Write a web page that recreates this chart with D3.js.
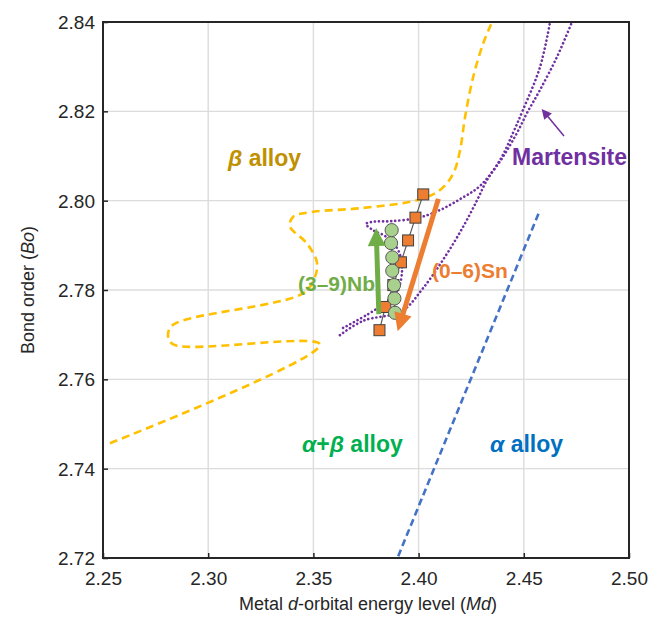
<!DOCTYPE html>
<html>
<head>
<meta charset="utf-8">
<script src="https://cdn.jsdelivr.net/npm/d3@7"></script>
<style>
  body { margin: 0; background: #fff; }
  text { font-family: Arial, "Liberation Sans", sans-serif; }
</style>
</head>
<body>
<svg id="chart" width="649" height="619"></svg>
<script>
// Axis ticks
const xTicks = [2.25, 2.30, 2.35, 2.40, 2.45, 2.50];
const yTicks = [2.72, 2.74, 2.76, 2.78, 2.80, 2.82, 2.84];

// Sn additions (0–6 wt%): Md, Bo
const snLabels = [0, 1, 2, 3, 4, 5, 6];
const snMd = [2.4022, 2.3985, 2.3950, 2.3916, 2.3880, 2.3842, 2.3814];
const snBo = [2.8014, 2.7962, 2.7911, 2.7862, 2.7811, 2.7762, 2.7710];

// Nb additions (3–9 wt%): Md, Bo
const nbLabels = [3, 4, 5, 6, 7, 8, 9];
const nbMd = [2.3888, 2.3885, 2.3883, 2.3875, 2.3875, 2.3869, 2.3872];
const nbBo = [2.7749, 2.7781, 2.7811, 2.7843, 2.7873, 2.7905, 2.7934];

// β / α+β boundary
const betaMd = [2.2533, 2.3531, 2.2834, 2.2809, 2.2833, 2.3452, 2.3508, 2.3516, 2.3468, 2.3389, 2.3404, 2.3500, 2.3722, 2.3991, 2.4102, 2.4165, 2.4197, 2.4221, 2.4260, 2.4307, 2.4349];
const betaBo = [2.7457, 2.7678, 2.7678, 2.7699, 2.7722, 2.7793, 2.7830, 2.7863, 2.7905, 2.7942, 2.7964, 2.7975, 2.7983, 2.8001, 2.8024, 2.8061, 2.8113, 2.8188, 2.8278, 2.8352, 2.8400];

// Martensite boundaries
const msUpperMd = [2.3641, 2.3760, 2.3845, 2.3902, 2.3921, 2.3916, 2.3888, 2.3840, 2.3783, 2.3750, 2.3788, 2.3864, 2.3992, 2.4102, 2.4206, 2.4292, 2.4387, 2.4449, 2.4496, 2.4577, 2.4625];
const msUpperBo = [2.7715, 2.7746, 2.7773, 2.7802, 2.7840, 2.7872, 2.7901, 2.7921, 2.7934, 2.7948, 2.7953, 2.7954, 2.7961, 2.7979, 2.8006, 2.8033, 2.8091, 2.8152, 2.8203, 2.8299, 2.8400];
const msLowerMd = [2.3626, 2.3736, 2.3921, 2.4021, 2.4125, 2.4211, 2.4278, 2.4325, 2.4401, 2.4468, 2.4515, 2.4577, 2.4658, 2.4729];
const msLowerBo = [2.7699, 2.7731, 2.7753, 2.7804, 2.7874, 2.7941, 2.8001, 2.8046, 2.8098, 2.8152, 2.8196, 2.8248, 2.8322, 2.8400];

// α / α+β boundary
const alphaMd = [2.3903, 2.4577];
const alphaBo = [2.7204, 2.7979];

// Trend arrows [from, to]
const nbArrow = [[2.3811, 2.7746], [2.3798, 2.7943]];
const snArrow = [[2.4094, 2.8004], [2.3898, 2.7704]];
const msArrow = [[2.4691, 2.8145], [2.4582, 2.8207]];

const svg = d3.select("#chart");
const m = { left: 103, right: 629, top: 22, bottom: 558 };

const x = d3.scaleLinear().domain([2.25, 2.50]).range([m.left, m.right]);
const y = d3.scaleLinear().domain([2.72, 2.84]).range([m.bottom, m.top]);

// Grid
svg.append("g").selectAll("line").data(xTicks.slice(1, -1)).join("line")
  .attr("x1", d => x(d)).attr("x2", d => x(d))
  .attr("y1", m.top).attr("y2", m.bottom)
  .attr("stroke", "#dcdcdc").attr("stroke-width", 1.4);
svg.append("g").selectAll("line").data(yTicks.slice(1, -1)).join("line")
  .attr("x1", m.left).attr("x2", m.right)
  .attr("y1", d => y(d)).attr("y2", d => y(d))
  .attr("stroke", "#dcdcdc").attr("stroke-width", 1.4);

// Axes
const fmt = d3.format(".2f");
const xAxis = svg.append("g").attr("transform", `translate(0,${m.bottom})`)
  .call(d3.axisBottom(x).tickValues(xTicks).tickFormat(fmt).tickSizeInner(-5).tickSizeOuter(0).tickPadding(14));
const yAxis = svg.append("g").attr("transform", `translate(${m.left},0)`)
  .call(d3.axisLeft(y).tickValues(yTicks).tickFormat(fmt).tickSizeInner(-5).tickSizeOuter(0).tickPadding(8));
[xAxis, yAxis].forEach(a => {
  a.select(".domain").remove();
  a.selectAll(".tick line").attr("stroke", "#262626").attr("stroke-width", 1.5);
  a.selectAll(".tick text").attr("font-size", 19).attr("fill", "#262626")
    .style("font-family", "Arial, 'Liberation Sans', sans-serif");
});
yAxis.selectAll(".tick text").attr("dy", "0.35em");

// Frame
svg.append("rect").attr("x", m.left).attr("y", m.top)
  .attr("width", m.right - m.left).attr("height", m.bottom - m.top)
  .attr("fill", "none").attr("stroke", "#262626").attr("stroke-width", 2);

// Axis titles
const xt = svg.append("text").attr("x", (m.left + m.right) / 2 + 2).attr("y", 610)
  .attr("text-anchor", "middle").attr("font-size", 18).attr("fill", "#262626");
xt.append("tspan").text("Metal ");
xt.append("tspan").attr("font-style", "italic").text("d");
xt.append("tspan").text("-orbital energy level (");
xt.append("tspan").attr("font-style", "italic").text("Md");
xt.append("tspan").text(")");

const yt = svg.append("text").attr("transform", `translate(34,${(m.top + m.bottom) / 2}) rotate(-90)`)
  .attr("text-anchor", "middle").attr("font-size", 18).attr("fill", "#262626");
yt.append("tspan").text("Bond order (");
yt.append("tspan").attr("font-style", "italic").text("Bo");
yt.append("tspan").text(")");

const zip = (a, b) => a.map((v, i) => [v, b[i]]);
const line = d3.line().x(d => x(d[0])).y(d => y(d[1])).curve(d3.curveCatmullRom.alpha(0.5));
const straight = d3.line().x(d => x(d[0])).y(d => y(d[1]));

// Boundaries
svg.append("path").datum(zip(betaMd, betaBo)).attr("d", line)
  .attr("fill", "none").attr("stroke", "#ffc000").attr("stroke-width", 2.6)
  .attr("stroke-dasharray", "8,5");
svg.append("path").datum(zip(alphaMd, alphaBo)).attr("d", line)
  .attr("fill", "none").attr("stroke", "#4472c4").attr("stroke-width", 2.6)
  .attr("stroke-dasharray", "7,4");
[[msUpperMd, msUpperBo], [msLowerMd, msLowerBo]].forEach(([a, b]) => {
  svg.append("path").datum(zip(a, b)).attr("d", line)
    .attr("fill", "none").attr("stroke", "#7030a0").attr("stroke-width", 2.6)
    .attr("stroke-dasharray", "0.1,4").attr("stroke-linecap", "round");
});

// Arrowheads
const defs = svg.append("defs");
function marker(id, color, w, h) {
  defs.append("marker").attr("id", id).attr("viewBox", "0 0 10 10")
    .attr("refX", 1).attr("refY", 5).attr("markerUnits", "userSpaceOnUse")
    .attr("markerWidth", w).attr("markerHeight", h).attr("orient", "auto")
    .append("path").attr("d", "M0,0 L10,5 L0,10 Z").attr("fill", color);
}
marker("mNb", "#70ad47", 20, 18);
marker("mSn", "#ed7d31", 20, 18);
marker("mMs", "#7030a0", 11, 10);

function arrow(seg, color, w, id, head) {
  // shorten the shaft so the arrowhead tip lands on the end point
  const [p0, p1] = seg.map(d => [x(d[0]), y(d[1])]);
  const dx = p1[0] - p0[0], dy = p1[1] - p0[1], L = Math.hypot(dx, dy);
  const e = [p1[0] - dx / L * head, p1[1] - dy / L * head];
  svg.append("line").attr("x1", p0[0]).attr("y1", p0[1]).attr("x2", e[0]).attr("y2", e[1])
    .attr("stroke", color).attr("stroke-width", w).attr("marker-end", `url(#${id})`);
}

// Data series: Sn squares, then Nb circles
svg.append("path").datum(zip(snMd, snBo)).attr("d", straight)
  .attr("fill", "none").attr("stroke", "#595959").attr("stroke-width", 1.2);
svg.append("g").selectAll("rect").data(zip(snMd, snBo)).join("rect")
  .attr("x", d => x(d[0]) - 5.5).attr("y", d => y(d[1]) - 5.5)
  .attr("width", 11).attr("height", 11)
  .attr("fill", "#ed7d31").attr("stroke", "#404040").attr("stroke-width", 1);
svg.append("path").datum(zip(nbMd, nbBo)).attr("d", straight)
  .attr("fill", "none").attr("stroke", "#595959").attr("stroke-width", 1.2);
svg.append("g").selectAll("circle").data(zip(nbMd, nbBo)).join("circle")
  .attr("cx", d => x(d[0])).attr("cy", d => y(d[1])).attr("r", 6.6)
  .attr("fill", "#a9d18e").attr("stroke", "#595959").attr("stroke-width", 1);

arrow(nbArrow, "#70ad47", 5, "mNb", 18);
arrow(snArrow, "#ed7d31", 5, "mSn", 18);
arrow(msArrow, "#7030a0", 1.5, "mMs", 10);

// Region labels
function label(px, py, parts, color, size) {
  const t = svg.append("text").attr("x", px).attr("y", py).attr("fill", color)
    .attr("font-size", size).attr("font-weight", "bold");
  parts.forEach(([s, it]) => t.append("tspan").attr("font-style", it ? "italic" : null).text(s));
}
label(228, 166, [["β", true], [" alloy", false]], "#bf9000", 23);
label(512, 165, [["Martensite", false]], "#7030a0", 23);
label(298, 291, [["(3–9)Nb", false]], "#70ad47", 21);
label(432, 278, [["(0–6)Sn", false]], "#ed7d31", 21);
label(302, 452, [["α", true], ["+", false], ["β", true], [" alloy", false]], "#00b050", 23);
label(490, 452, [["α", true], [" alloy", false]], "#0070c0", 23);
</script>
</body>
</html>
